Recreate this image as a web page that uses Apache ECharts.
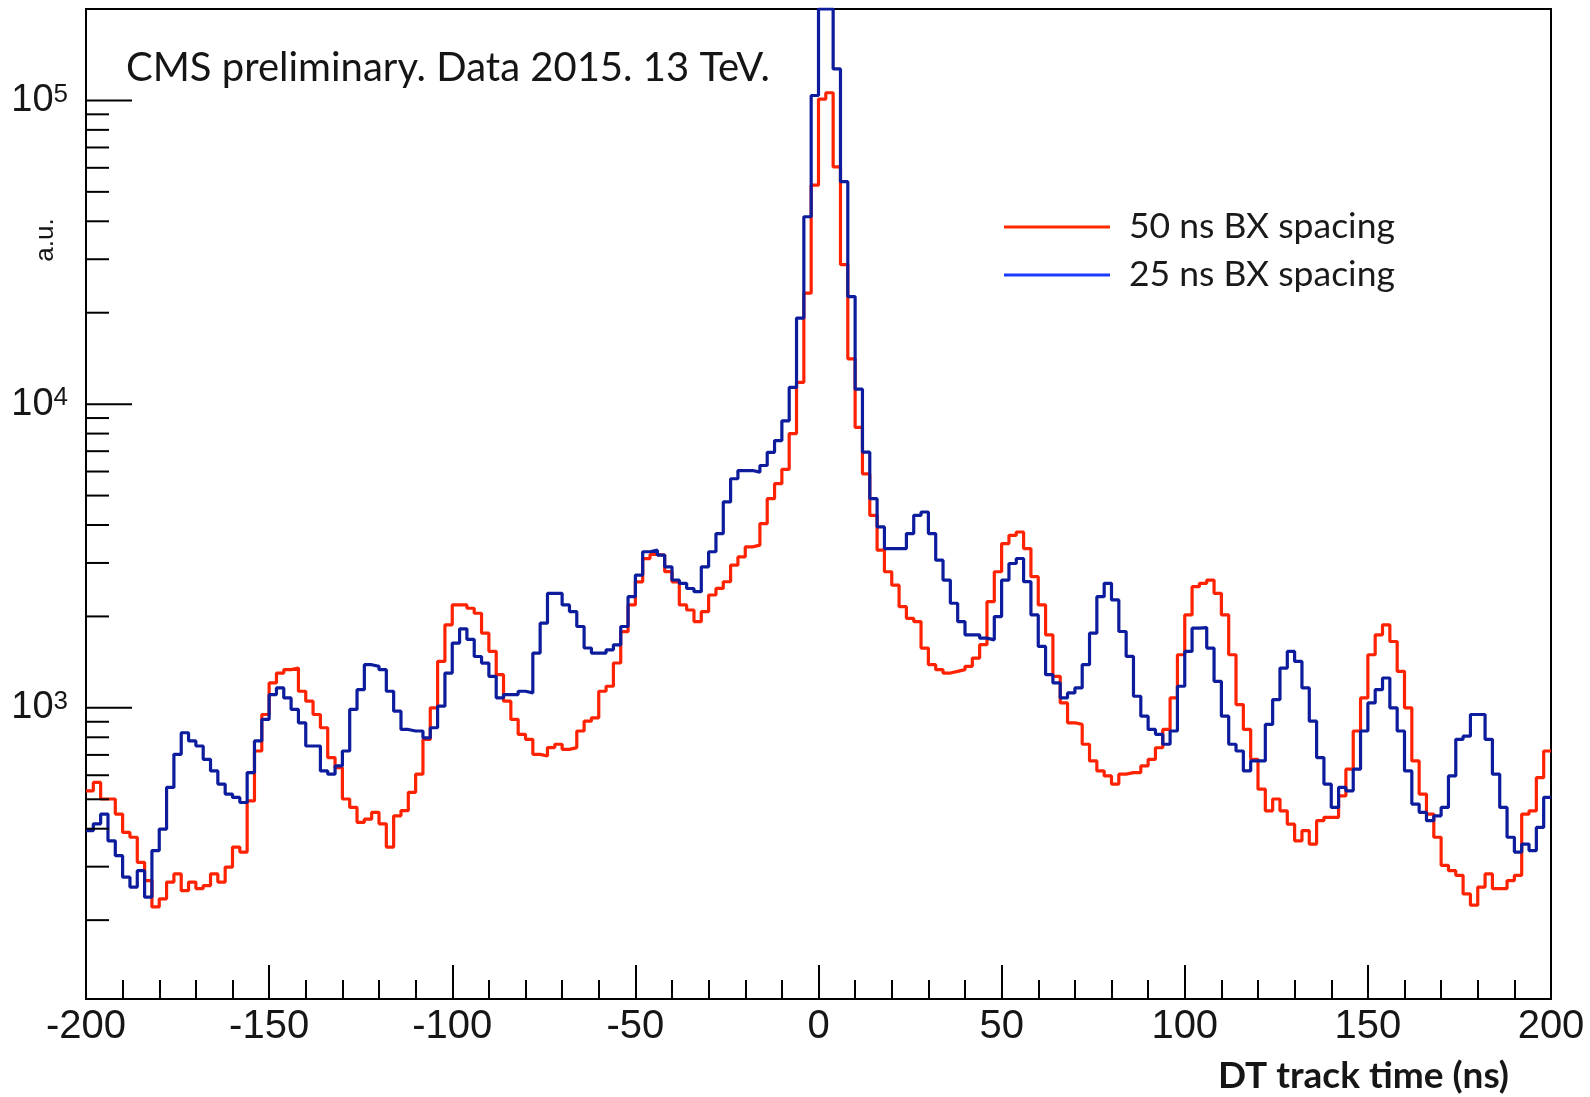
<!DOCTYPE html>
<html>
<head>
<meta charset="utf-8">
<script src="https://cdn.jsdelivr.net/npm/echarts@6/dist/echarts.min.js"></script>
<style>
html,body{margin:0;padding:0;background:#ffffff;}
#chart{width:1590px;height:1097px;}
</style>
</head>
<body>
<div id="chart"></div>
<script>
// Histogram binning: 200 bins of 2 ns from -200 ns to 200 ns
const binLow = -200;
const binWidth = 2;

// 50 ns BX spacing (red), counts per bin
const red50ns = [
  533, 568, 501, 501, 447, 389, 375, 310, 270, 221,
  235, 267, 284, 250, 267, 254, 260, 284, 267, 299,
  348, 335, 494, 721, 951, 1208, 1302, 1336, 1352, 1134,
  1052, 951, 860, 686, 636, 501, 470, 420, 430, 453,
  415, 348, 441, 459, 527, 605, 787, 1000, 1422, 1877,
  2183, 2183, 2128, 2049, 1762, 1535, 1286, 1052, 916, 818,
  788, 703, 694, 740, 759, 730, 740, 839, 904, 927,
  1134, 1178, 1405, 1782, 2183, 2600, 3102, 3198, 3184, 2807,
  2600, 2183, 2100, 1923, 2073, 2353, 2474, 2601, 2950, 3140,
  3388, 3435, 4044, 4885, 5472, 6100, 8000, 11800, 23200, 52600,
  101000, 106000, 60400, 28800, 14100, 8380, 5890, 4304, 3305, 2806,
  2535, 2154, 1972, 1923, 1573, 1387, 1336, 1302, 1319, 1336,
  1370, 1458, 1614, 2237, 2806, 3475, 3700, 3793, 3346, 2703,
  2183, 1740, 1270, 1038, 893, 882, 759, 669, 620, 597,
  561, 605, 612, 612, 644, 677, 739, 849, 1078, 1496,
  2023, 2506, 2570, 2635, 2383, 2023, 1496, 1025, 849, 677,
  540, 458, 501, 458, 414, 365, 394, 356, 425, 436,
  436, 513, 628, 839, 1078, 1496, 1740, 1876, 1654, 1319,
  1000, 669, 520, 447, 375, 303, 291, 281, 244, 224,
  257, 284, 254, 254, 270, 281, 447, 458, 589, 721
];

// 25 ns BX spacing (blue), counts per bin
const blue25ns = [
  394, 415, 447, 365, 326, 277, 257, 291, 238, 339,
  399, 547, 703, 828, 778, 749, 677, 620, 561, 520,
  507, 488, 612, 778, 916, 1106, 1163, 1078, 988, 893,
  749, 749, 620, 605, 644, 721, 988, 1148, 1387, 1370,
  1336, 1134, 975, 849, 839, 839, 797, 860, 1013, 1302,
  1634, 1820, 1680, 1476, 1404, 1270, 1079, 1106, 1106, 1134,
  1120, 1515, 1900, 2383, 2383, 2183, 2075, 1853, 1574, 1515,
  1515, 1553, 1613, 1853, 2323, 2736, 3266, 3305, 3184, 2914,
  2636, 2570, 2472, 2413, 2914, 3266, 3749, 4765, 5680, 6045,
  6045, 5970, 6280, 6940, 7585, 8810, 11350, 19200, 41400, 103800,
  240000, 220000, 127000, 54000, 22600, 11200, 6950, 4882, 3941, 3346,
  3346, 3346, 3748, 4304, 4414, 3748, 3064, 2635, 2210, 1924,
  1740, 1740, 1696, 1675, 1998, 2635, 2988, 3103, 2603, 2023,
  1593, 1286, 1208, 1078, 1120, 1163, 1387, 1762, 2323, 2570,
  2266, 1784, 1477, 1092, 939, 849, 818, 759, 839, 1178,
  1534, 1829, 1838, 1573, 1223, 939, 759, 721, 620, 669,
  669, 882, 1065, 1352, 1534, 1422, 1163, 904, 686, 561,
  470, 547, 533, 628, 839, 1038, 1148, 1254, 1000, 839,
  620, 482, 453, 425, 441, 470, 597, 788, 807, 951,
  951, 788, 605, 470, 375, 335, 356, 339, 404, 507
];

const seriesNames = ['50 ns BX spacing', '25 ns BX spacing'];
const yMajorTicks = [1000, 10000, 100000];
const yMinorTicks = [200, 300, 400, 500, 600, 700, 800, 900,
                     2000, 3000, 4000, 5000, 6000, 7000, 8000, 9000,
                     20000, 30000, 40000, 50000, 60000, 70000, 80000, 90000];
const titleText = 'CMS preliminary. Data 2015. 13 TeV.';
const xTitle = 'DT track time (ns)';
const yTitle = 'a.u.';

const xMin = -200, xMax = 200;
const yMin = 110, yMax = 200000;

// Like ROOT, bins above the frame are drawn along the top edge of the frame
function toSteps(vals) {
  const pts = vals.map((v, i) => [binLow + i * binWidth, Math.min(v, yMax)]);
  pts.push([binLow + vals.length * binWidth, Math.min(vals[vals.length - 1], yMax)]);
  return pts;
}

const tickData = yMajorTicks.map(v => [xMin, v, 1]).concat(yMinorTicks.map(v => [xMin, v, 0]));

const chart = echarts.init(document.getElementById('chart'), null, {renderer: 'canvas'});

chart.setOption({
  animation: false,
  backgroundColor: '#ffffff',
  title: {
    text: titleText,
    left: 121,
    top: 43,
    textStyle: {fontFamily: 'Lato', fontWeight: 'normal', fontSize: 40, color: '#151515'}
  },
  legend: {
    orient: 'vertical',
    left: 999,
    top: 202,
    icon: 'rect',
    itemWidth: 106,
    itemHeight: 3,
    itemGap: 8,
    selectedMode: false,
    data: [
      {name: seriesNames[0], itemStyle: {color: '#ff2a00'}},
      {name: seriesNames[1], itemStyle: {color: '#1a3cff'}}
    ],
    textStyle: {fontFamily: 'Lato', fontSize: 35.5, lineHeight: 40, color: '#1a1a1a', padding: [0, 0, 0, 14]}
  },
  grid: {
    left: 86, right: 39, top: 9, bottom: 98,
    show: true, borderColor: '#000', borderWidth: 2, backgroundColor: 'transparent'
  },
  xAxis: {
    type: 'value',
    min: xMin, max: xMax, interval: 50,
    axisLine: {onZero: false, lineStyle: {color: '#000', width: 2}},
    axisTick: {inside: true, length: 34, lineStyle: {color: '#000', width: 2}},
    minorTick: {show: true, splitNumber: 5, length: 19, lineStyle: {color: '#000', width: 2}},
    splitLine: {show: false},
    minorSplitLine: {show: false},
    axisLabel: {fontFamily: 'Liberation Sans', fontSize: 40, color: '#161616', margin: 8}
  },
  yAxis: {
    type: 'log',
    logBase: 10,
    min: yMin, max: yMax,
    axisLine: {onZero: false, lineStyle: {color: '#000', width: 2}},
    axisTick: {show: false},
    splitLine: {show: false},
    minorTick: {show: false},
    axisLabel: {
      margin: 18,
      showMinLabel: false,
      showMaxLabel: false,
      formatter: function (v) {
        const l = Math.log10(v);
        const e = Math.round(l);
        if (Math.abs(l - e) > 1e-6) return '';
        return '{b|10}{s|' + e + '}';
      },
      rich: {
        b: {fontFamily: 'Liberation Sans', fontSize: 38, lineHeight: 38, color: '#161616'},
        s: {fontFamily: 'Liberation Sans', fontSize: 26, lineHeight: 26, color: '#161616', verticalAlign: 'top'}
      }
    }
  },
  graphic: [
    {
      type: 'text', x: 46, y: 240, rotation: Math.PI / 2,
      style: {text: yTitle, font: '26px "Liberation Sans"', fill: '#161616', textAlign: 'center', textVerticalAlign: 'middle'}
    },
    {
      type: 'text', x: 1509, y: 1076,
      style: {text: xTitle, font: 'bold 37px Lato', fill: '#161616', textAlign: 'right', textVerticalAlign: 'middle'}
    }
  ],
  series: [
    {
      name: seriesNames[0], type: 'line', step: 'end', symbol: 'none', clip: true,
      data: toSteps(red50ns),
      lineStyle: {color: '#ff2200', width: 3.2}, itemStyle: {color: '#ff2200'}, z: 2
    },
    {
      name: seriesNames[1], type: 'line', step: 'end', symbol: 'none', clip: true,
      data: toSteps(blue25ns),
      lineStyle: {color: '#0c1c9c', width: 3.2}, itemStyle: {color: '#0c1c9c'}, z: 3
    },
    {
      name: 'yticks', type: 'custom', silent: true, clip: false, z: 10,
      data: tickData,
      encode: {x: 0, y: 1},
      renderItem: function (params, api) {
        const p = api.coord([api.value(0), api.value(1)]);
        const len = api.value(2) ? 46 : 23;
        return {
          type: 'line',
          shape: {x1: p[0], y1: p[1], x2: p[0] + len, y2: p[1]},
          style: {stroke: '#000', lineWidth: 2}
        };
      }
    }
  ]
});
</script>
</body>
</html>
